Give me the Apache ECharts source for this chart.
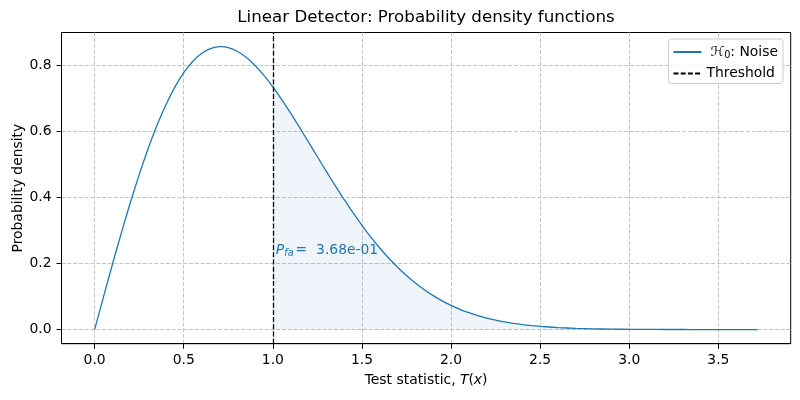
<!DOCTYPE html>
<html>
<head>
<meta charset="utf-8">
<script src="https://cdn.jsdelivr.net/npm/echarts@6/dist/echarts.min.js"></script>
<style>html,body{margin:0;padding:0;background:#fff}#c{width:800px;height:400px}</style>
</head>
<body>
<div id="c"></div>
<script>
// Values
const xValues = [0, 0.05, 0.1, 0.15, 0.2, 0.25, 0.3, 0.35, 0.4, 0.45, 0.5, 0.55, 0.6, 0.65, 0.7, 0.71, 0.75, 0.8, 0.85, 0.9, 0.95,
  1.0, 1.05, 1.1, 1.15, 1.2, 1.25, 1.3, 1.35, 1.4, 1.45, 1.5, 1.55, 1.6, 1.65, 1.7, 1.75, 1.8, 1.85, 1.9, 1.95,
  2.0, 2.05, 2.1, 2.15, 2.2, 2.25, 2.3, 2.35, 2.4, 2.45, 2.5, 2.6, 2.7, 2.8, 2.9, 3.0, 3.1, 3.2, 3.3, 3.4, 3.5, 3.6, 3.72];
const noisePdf = [0, 0.0998, 0.1980, 0.2933, 0.3843, 0.4697, 0.5484, 0.6193, 0.6817, 0.7350, 0.7788, 0.8129, 0.8372, 0.8520, 0.8577, 0.8578, 0.8547, 0.8437, 0.8254, 0.8007, 0.7705,
  0.7358, 0.6973, 0.6560, 0.6129, 0.5686, 0.5240, 0.4798, 0.4364, 0.3944, 0.3542, 0.3162, 0.2805, 0.2474, 0.2168, 0.1890, 0.1637, 0.1410, 0.1207, 0.1028, 0.0870,
  0.0733, 0.0613, 0.0511, 0.0423, 0.0348, 0.0285, 0.0232, 0.0188, 0.0151, 0.0121, 0.0097, 0.0060, 0.0037, 0.0022, 0.0013, 0.0007, 0.0004, 0.0002, 0.0001, 0.0000, 0.0000, 0.0000, 0.0000];
const threshold = 1.0;
const pfaText = '3.68e-01';
const annotationY = 0.24;
const xTicks = [0, 0.5, 1.0, 1.5, 2.0, 2.5, 3.0, 3.5];
const yTicks = [0, 0.2, 0.4, 0.6, 0.8];

const curve = xValues.map((x, i) => [x, noisePdf[i]]);
const tail = curve.filter(p => p[0] >= threshold);

const FONT = 'DejaVu Sans';
const GRID_LINE = {color: '#c4c4c4', width: 1, type: [4, 1.8]};
const chart = echarts.init(document.getElementById('c'), null, {renderer: 'canvas'});
chart.setOption({
  animation: false,
  backgroundColor: '#fff',
  textStyle: {fontFamily: FONT},
  title: {
    text: 'Linear Detector: Probability density functions',
    left: 426, top: 9, textAlign: 'center', padding: 0,
    textStyle: {fontFamily: FONT, fontSize: 16.7, fontWeight: 'normal', color: '#000'}
  },
  grid: {left: 61.5, right: 9.3, top: 32.5, bottom: 56.3, show: true, borderColor: '#000', borderWidth: 1, backgroundColor: 'transparent', containLabel: false, outerBoundsMode: 'none'},
  legend: {
    orient: 'vertical', right: 17, top: 39,
    data: ['noise', 'Threshold'],
    formatter: n => n === 'noise' ? '{h|ℋ}{s|0}{t|: Noise}' : '{t|Threshold}',
    itemWidth: 28, itemHeight: 14, itemGap: 6.5,
    padding: [6, 5, 3, 4],
    borderColor: '#cccccc', borderWidth: 1, borderRadius: 3, backgroundColor: 'rgba(255,255,255,0.8)',
    itemStyle: {color: 'transparent', borderColor: 'transparent', borderWidth: 0, opacity: 0},
    textStyle: {
      fontFamily: FONT, fontSize: 13.9, color: '#000',
      rich: {
        h: {fontFamily: FONT, fontSize: 13.9, fontStyle: 'italic', color: '#000', padding: [0, 0, 0, 4]},
        s: {fontFamily: FONT, fontSize: 9.7, color: '#000', padding: [6, 0, 0, 0]},
        t: {fontFamily: FONT, fontSize: 13.9, color: '#000'}
      }
    }
  },
  xAxis: {
    type: 'value', min: -0.186, max: 3.906,
    name: 'Test statistic, {i|T}({i|x})',
    nameLocation: 'middle', nameGap: 30, nameMoveOverlap: false,
    nameTextStyle: {fontFamily: FONT, fontSize: 13.9, color: '#000', rich: {i: {fontFamily: FONT, fontSize: 13.9, fontStyle: 'italic', color: '#000'}}},
    axisLine: {show: true, onZero: false, lineStyle: {color: '#000', width: 1}},
    axisTick: {show: true, length: 5, customValues: xTicks, lineStyle: {color: '#000', width: 1}},
    axisLabel: {customValues: xTicks, formatter: v => v.toFixed(1), fontFamily: FONT, fontSize: 13.9, color: '#000', margin: 10},
    splitLine: {show: true, lineStyle: GRID_LINE}
  },
  yAxis: {
    type: 'value', min: -0.0429, max: 0.9007,
    name: 'Probability density',
    nameLocation: 'middle', nameGap: 36, nameRotate: 90, nameMoveOverlap: false,
    nameTextStyle: {fontFamily: FONT, fontSize: 13.9, color: '#000'},
    axisLine: {show: true, onZero: false, lineStyle: {color: '#000', width: 1}},
    axisTick: {show: true, length: 5, customValues: yTicks, lineStyle: {color: '#000', width: 1}},
    axisLabel: {customValues: yTicks, formatter: v => v.toFixed(1), fontFamily: FONT, fontSize: 13.9, color: '#000', margin: 10},
    splitLine: {show: true, lineStyle: GRID_LINE}
  },
  series: [
    {
      name: 'tail', type: 'line', data: tail, showSymbol: false, symbol: 'none', smooth: 0.2,
      lineStyle: {width: 0, opacity: 0},
      areaStyle: {color: 'rgba(31,119,180,0.1)'},
      silent: true, z: 1,
      markPoint: {
        symbol: 'circle', symbolSize: 0,
        data: [{coord: [threshold, annotationY]}],
        label: {
          show: true, position: 'right', distance: 3,
          formatter: '{p|P}{s|fa}{t|=  ' + pfaText + '}',
          rich: {
            p: {fontFamily: FONT, fontSize: 13.9, fontStyle: 'italic', color: '#1f77b4'},
            s: {fontFamily: FONT, fontSize: 9.7, fontStyle: 'italic', color: '#1f77b4', padding: [6, 2, 0, 0]},
            t: {fontFamily: FONT, fontSize: 13.9, color: '#1f77b4'}
          }
        }
      }
    },
    {
      name: 'noise', type: 'line', data: curve, showSymbol: false, symbol: 'none', smooth: 0.2,
      lineStyle: {color: '#1f77b4', width: 1.3}, itemStyle: {color: '#1f77b4'}, z: 3
    },
    {
      name: 'Threshold', type: 'line', data: [], symbol: 'none',
      lineStyle: {color: '#000', width: 1.3, type: [5, 2.2]}, itemStyle: {color: '#000'},
      markLine: {
        silent: true, symbol: 'none', label: {show: false},
        lineStyle: {color: '#000', width: 1.3, type: [5, 2.2]},
        data: [{xAxis: threshold}]
      },
      z: 4
    }
  ]
});
</script>
</body>
</html>
